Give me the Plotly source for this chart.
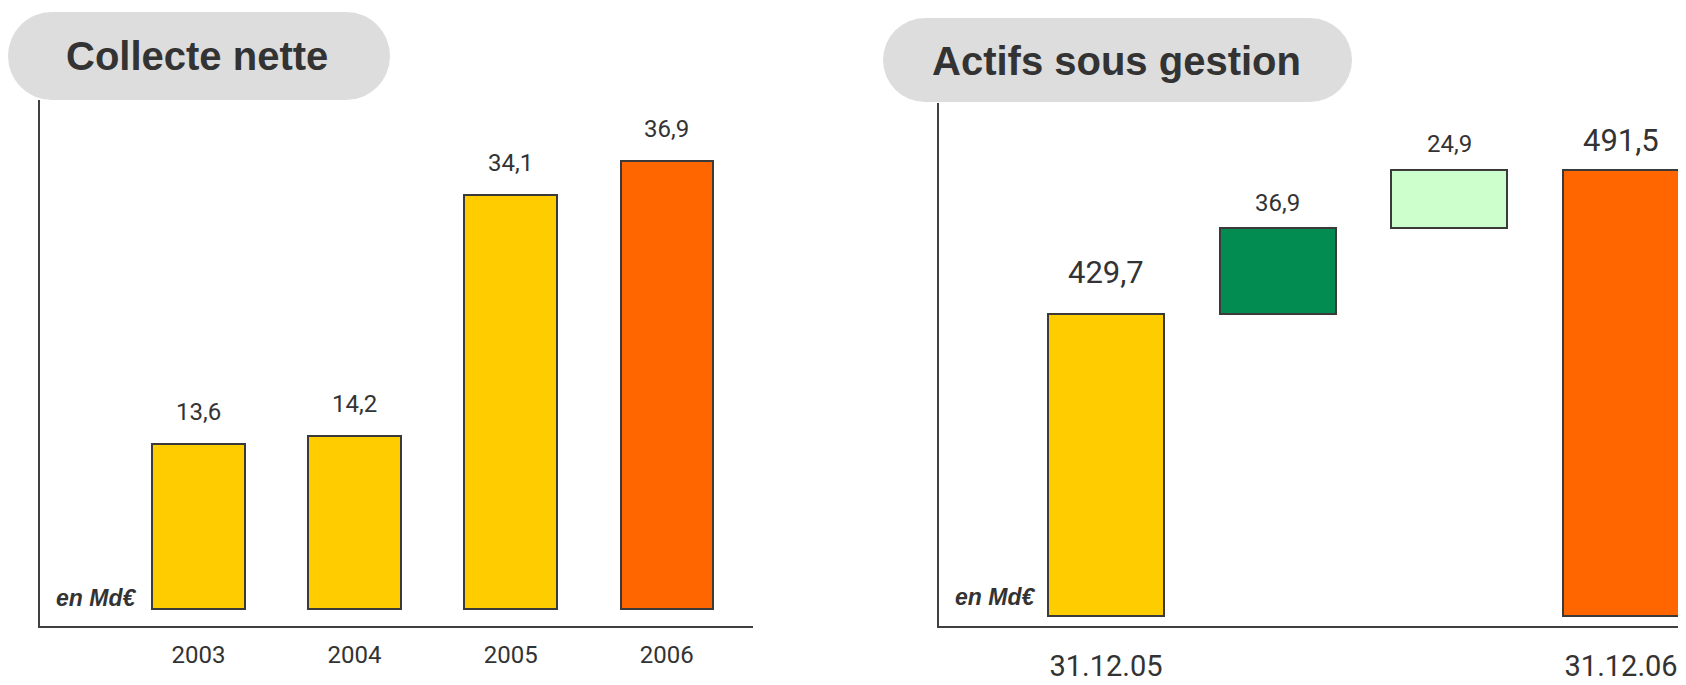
import plotly.graph_objects as go

# ---------------- data ----------------
years = ["2003", "2004", "2005", "2006"]
collecte = [13.6, 14.2, 34.1, 36.9]

steps = ["31.12.05", "Collecte nette", "Effet marché", "31.12.06"]
aum_start = 429.7
aum_flows = [36.9, 24.9]
aum_end = 491.5
aum_floor = 300.0

# page: body has an 8px default margin, so the figure is drawn 8px in
OFF = 8
WIN_W, WIN_H = 1686, 685
W, H = WIN_W - OFF, WIN_H - OFF
TXT = "#333333"
NUMF = "Roboto, Liberation Sans, sans-serif"
BOLD = "Liberation Sans, Arial, sans-serif"


def px(x):
    return (x - OFF) / W


def py(y):
    return 1 - (y - OFF) / H


def fmt(v):
    return f"{v:.1f}".replace(".", ",")


fig = go.Figure()

# left chart
left_colors = ["#FFCC00", "#FFCC00", "#FFCC00", "#FF6600"]
fig.add_trace(go.Bar(
    x=years, y=collecte, xaxis="x", yaxis="y", width=0.593,
    marker=dict(color=left_colors, line=dict(color="#3a3a3a", width=2)),
    hoverinfo="skip", showlegend=False,
))

# right chart (waterfall built from bars)
bases = [aum_floor]
lengths = [aum_start - aum_floor]
level = aum_start
for f in aum_flows:
    bases.append(level)
    lengths.append(f)
    level += f
bases.append(aum_floor)
lengths.append(aum_end - aum_floor)
tops = [b + l for b, l in zip(bases, lengths)]
right_vals = [aum_start] + aum_flows + [aum_end]
right_colors = ["#FFCC00", "#038C52", "#CCFFCC", "#FF6600"]
fig.add_trace(go.Bar(
    x=steps, y=lengths, base=bases, xaxis="x2", yaxis="y2", width=0.675,
    marker=dict(color=right_colors, line=dict(color="#3a3a3a", width=2)),
    hoverinfo="skip", showlegend=False,
))

axis_common = dict(showgrid=False, zeroline=False, showline=True,
                   linecolor="#404040", linewidth=2, automargin=False,
                   fixedrange=True)

fig.update_layout(
    width=W, height=H,
    margin=dict(l=0, r=0, t=0, b=0),
    paper_bgcolor="white", plot_bgcolor="white",
    bargap=0,
    xaxis=dict(domain=[px(40), px(753)], type="category",
               range=[-1.015, 3.552], ticks="outside", ticklen=6,
               tickcolor="rgba(0,0,0,0)",
               tickfont=dict(family=NUMF, size=24, color=TXT),
               anchor="y", **axis_common),
    yaxis=dict(domain=[py(626), py(100)], range=[-1.40, 41.89],
               showticklabels=False, ticks="", anchor="x", **axis_common),
    xaxis2=dict(domain=[px(939), px(1686)], type="category",
                range=[-0.973, 3.378], ticks="outside", ticklen=13,
                tickcolor="rgba(0,0,0,0)",
                tickvals=[steps[0], steps[-1]], ticktext=[steps[0], steps[-1]],
                tickfont=dict(family=NUMF, size=29, color=TXT),
                anchor="y2", **axis_common),
    yaxis2=dict(domain=[py(626), py(103)], range=[295.71, 520.27],
                showticklabels=False, ticks="", anchor="x2", **axis_common),
)

annotations = []
# value labels left
for i, v in enumerate(collecte):
    annotations.append(dict(x=i, y=v, xref="x", yref="y", text=fmt(v),
                            showarrow=False, yanchor="middle", yshift=32,
                            font=dict(family=NUMF, size=24, color=TXT)))
# value labels right
r_sizes = [31, 24, 24, 31]
r_shift = [41, 25, 26, 30]
for i, (t, v, s, sh) in enumerate(zip(tops, right_vals, r_sizes, r_shift)):
    annotations.append(dict(x=i, y=t, xref="x2", yref="y2", text=fmt(v),
                            showarrow=False, yanchor="middle", yshift=sh,
                            font=dict(family=NUMF, size=s, color=TXT)))

# unit labels
annotations.append(dict(x=px(96), y=py(598), xref="paper", yref="paper",
                        text="<b><i>en Md€</i></b>", showarrow=False,
                        xanchor="center", yanchor="middle",
                        font=dict(family=BOLD, size=23, color=TXT)))
annotations.append(dict(x=px(995), y=py(597), xref="paper", yref="paper",
                        text="<b><i>en Md€</i></b>", showarrow=False,
                        xanchor="center", yanchor="middle",
                        font=dict(family=BOLD, size=23, color=TXT)))

# title pills
shapes = []


def pill(x0, y0, x1, y1):
    r = (y1 - y0) / 2
    common = dict(xref="paper", yref="paper", fillcolor="#DDDDDD",
                  line=dict(width=0), layer="below")
    shapes.append(dict(type="rect", x0=px(x0 + r), x1=px(x1 - r),
                       y0=py(y1), y1=py(y0), **common))
    shapes.append(dict(type="circle", x0=px(x0), x1=px(x0 + 2 * r),
                       y0=py(y1), y1=py(y0), **common))
    shapes.append(dict(type="circle", x0=px(x1 - 2 * r), x1=px(x1),
                       y0=py(y1), y1=py(y0), **common))


pill(8, 12, 390, 100)
pill(883, 18, 1352, 102)

annotations.append(dict(x=px(197), y=py(56), xref="paper", yref="paper",
                        text="<b>Collecte nette</b>", showarrow=False,
                        xanchor="center", yanchor="middle",
                        font=dict(family=BOLD, size=40, color=TXT)))
annotations.append(dict(x=px(1116), y=py(61), xref="paper", yref="paper",
                        text="<b>Actifs sous gestion</b>", showarrow=False,
                        xanchor="center", yanchor="middle",
                        font=dict(family=BOLD, size=40, color=TXT)))

fig.update_layout(annotations=annotations, shapes=shapes)
fig.write_html("out.html")
